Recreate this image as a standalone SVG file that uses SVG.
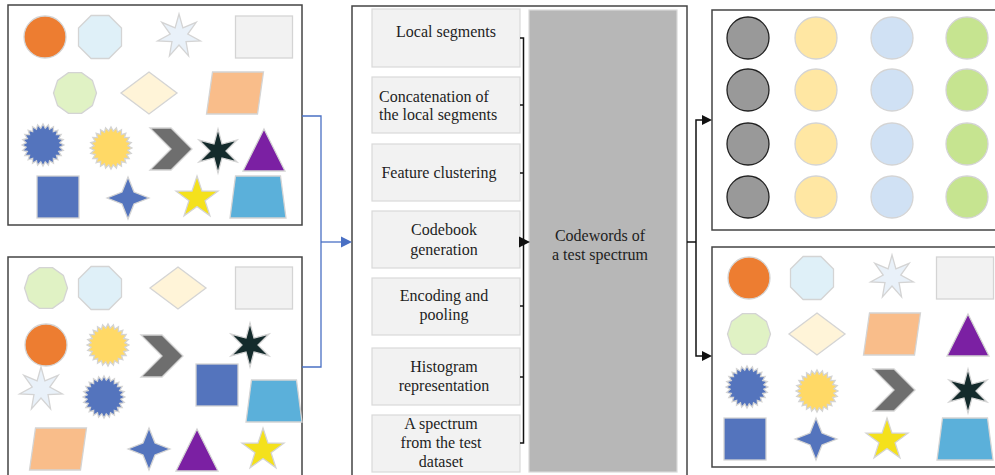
<svg xmlns="http://www.w3.org/2000/svg" width="995" height="475" viewBox="0 0 995 475">
<style>
.panel{fill:#fff;stroke:#444;stroke-width:1.5}
.sh{stroke:#d4d4d4;stroke-width:1.3}
.or{fill:#ed7d31}.lb{fill:#dff0f8}.ls{fill:#e9f1f9}.lg{fill:#f2f2f2}.gr{fill:#e0f2c4}.cr{fill:#fff4d8}.pe{fill:#f9bd8a}.bb{fill:#5474bd}.yb{fill:#ffd966}.gy{fill:#6e6e6e}.dk{fill:#142b2c}.pu{fill:#7b20a3}.ys{fill:#f4e11c}.tb{fill:#5bb0da}
.cg{fill:#999;stroke:#222;stroke-width:1.3}.cy{fill:#ffe7a3}.cb{fill:#d0e1f4}.cgr{fill:#c6e490}
.step{fill:#f2f2f2;stroke:#d9d9d9;stroke-width:1.2}
.t{font-family:"Liberation Serif","DejaVu Serif",serif;font-size:16px;fill:#1e1e1e}
.c{text-anchor:middle}
.blue{fill:none;stroke:#4a70c4;stroke-width:1.3}
.blk{fill:none;stroke:#111;stroke-width:1.5}
</style>
<defs>
<circle id="circ" r="21"/>
<polygon id="oct" points="-8.9,-21.5 8.9,-21.5 21.5,-8.9 21.5,8.9 8.9,21.5 -8.9,21.5 -21.5,8.9 -21.5,-8.9"/>
<polygon id="dec" points="21.5,0 17.4,12.6 6.6,20.4 -6.6,20.4 -17.4,12.6 -21.5,0 -17.4,-12.6 -6.6,-20.4 6.6,-20.4 17.4,-12.6"/>
<polygon id="star7" points="0,-22 3.9,-8.11 17.2,-13.72 8.77,-2 21.45,4.9 7.04,5.61 9.55,19.82 0,9 -9.55,19.82 -7.04,5.61 -21.45,4.9 -8.77,-2 -17.2,-13.72 -3.9,-8.11"/>
<rect id="rct" x="-28.5" y="-21" width="57" height="42"/>
<polygon id="dia" points="0,-21 28,0 0,21 -28,0"/>
<polygon id="para" points="-22.5,-21 28.5,-21 22.5,21 -28.5,21"/>
<polygon id="burst" points="21,0 16.85,2.22 20.28,5.44 15.71,6.51 18.19,10.5 13.49,10.35 14.85,14.85 10.35,13.49 10.5,18.19 6.51,15.71 5.44,20.28 2.22,16.85 0,21 -2.22,16.85 -5.44,20.28 -6.51,15.71 -10.5,18.19 -10.35,13.49 -14.85,14.85 -13.49,10.35 -18.19,10.5 -15.71,6.51 -20.28,5.44 -16.85,2.22 -21,0 -16.85,-2.22 -20.28,-5.44 -15.71,-6.51 -18.19,-10.5 -13.49,-10.35 -14.85,-14.85 -10.35,-13.49 -10.5,-18.19 -6.51,-15.71 -5.44,-20.28 -2.22,-16.85 0,-21 2.22,-16.85 5.44,-20.28 6.51,-15.71 10.5,-18.19 10.35,-13.49 14.85,-14.85 13.49,-10.35 18.19,-10.5 15.71,-6.51 20.28,-5.44 16.85,-2.22"/>
<polygon id="chev" points="-21,-21 0,-21 21,0 0,21 -21,21 0,0"/>
<polygon id="star6" points="0,-22 4,-6.93 19.05,-11 8,0 19.05,11 4,6.93 0,22 -4,6.93 -19.05,11 -8,0 -19.05,-11 -4,-6.93"/>
<polygon id="tri" points="0,-21 21,21 -21,21"/>
<rect id="sq" x="-21" y="-21" width="42" height="42"/>
<polygon id="star4" points="0,-21 6,-6 21,0 6,6 0,21 -6,6 -21,0 -6,-6"/>
<polygon id="star5" points="0,-22 5,-6.88 20.92,-6.8 8.08,2.63 12.93,17.8 0,8.5 -12.93,17.8 -8.08,2.63 -20.92,-6.8 -5,-6.88"/>
<polygon id="trap" points="-22.5,-21 22.5,-21 28,21 -28,21"/>
</defs>

<g id="panel-top-left">
<rect class="panel" x="8" y="5" width="294" height="220"/>
<g class="sh">
<use href="#circ" x="45" y="37" class="or"/>
<use href="#oct" x="100" y="37" class="lb"/>
<use href="#star7" x="179" y="36" class="ls"/>
<use href="#rct" x="264" y="37" class="lg"/>
<use href="#dec" x="75" y="93" class="gr"/>
<use href="#dia" x="149" y="93" class="cr"/>
<use href="#para" x="235" y="93" class="pe"/>
<use href="#burst" x="43" y="145" class="bb"/>
<use href="#burst" x="111" y="148" class="yb"/>
<use href="#chev" x="171" y="149" class="gy"/>
<use href="#star6" x="218" y="151" class="dk"/>
<use href="#tri" x="264" y="150" class="pu"/>
<use href="#sq" x="58" y="197" class="bb"/>
<use href="#star4" x="128" y="198" class="bb"/>
<use href="#star5" x="197" y="198" class="ys"/>
<use href="#trap" x="258" y="197" class="tb"/>
</g>
</g>

<g id="panel-bottom-left">
<rect class="panel" x="8" y="257" width="294" height="230"/>
<g class="sh">
<use href="#dec" x="46" y="288" class="gr"/>
<use href="#oct" x="100" y="288" class="lb"/>
<use href="#dia" x="178" y="288" class="cr"/>
<use href="#rct" x="264" y="288" class="lg"/>
<use href="#circ" x="46" y="345" class="or"/>
<use href="#burst" x="108" y="345" class="yb"/>
<use href="#chev" x="162" y="356" class="gy"/>
<use href="#star6" x="250" y="345" class="dk"/>
<use href="#star7" x="41" y="389" class="ls"/>
<use href="#burst" x="104" y="397" class="bb"/>
<use href="#sq" x="217" y="385" class="bb"/>
<use href="#trap" x="274" y="401" class="tb"/>
<use href="#para" x="58" y="449" class="pe"/>
<use href="#star4" x="149" y="449" class="bb"/>
<use href="#tri" x="197" y="450" class="pu"/>
<use href="#star5" x="263" y="450" class="ys"/>
</g>
</g>

<g id="pipeline">
<rect class="panel" x="352" y="6" width="335" height="480"/>
</g>

<g id="step-local-segments">
<rect class="step" x="372" y="9" width="148" height="58"/>
<text class="t c" x="446" y="37">Local segments</text>
</g>
<g id="step-concatenation">
<rect class="step" x="372" y="77" width="148" height="56"/>
<text class="t" x="379" y="102">Concatenation of</text>
<text class="t" x="379" y="120">the local segments</text>
</g>
<g id="step-feature-clustering">
<rect class="step" x="372" y="144" width="148" height="57"/>
<text class="t c" x="439" y="178">Feature clustering</text>
</g>
<g id="step-codebook">
<rect class="step" x="372" y="211" width="148" height="57"/>
<text class="t c" x="444" y="235">Codebook</text>
<text class="t c" x="444" y="255">generation</text>
</g>
<g id="step-encoding">
<rect class="step" x="372" y="278" width="148" height="57"/>
<text class="t c" x="444" y="301">Encoding and</text>
<text class="t c" x="444" y="320">pooling</text>
</g>
<g id="step-histogram">
<rect class="step" x="372" y="348" width="148" height="57"/>
<text class="t c" x="444" y="372">Histogram</text>
<text class="t c" x="444" y="391">representation</text>
</g>
<g id="step-spectrum">
<rect class="step" x="372" y="415" width="148" height="57"/>
<text class="t c" x="441" y="429">A spectrum</text>
<text class="t c" x="441" y="448">from the test</text>
<text class="t c" x="441" y="467">dataset</text>
</g>

<g id="codewords">
<rect x="529" y="10" width="148" height="462" fill="#b7b7b7" stroke="#d9d9d9" stroke-width="1.2"/>
<text class="t c" x="600" y="241">Codewords of</text>
<text class="t c" x="600" y="260">a test spectrum</text>
</g>

<g id="panel-codewords">
<rect class="panel" x="712" y="10" width="290" height="220"/>
<g class="sh">
<use href="#circ" x="748" y="38" class="cg"/>
<use href="#circ" x="748" y="90" class="cg"/>
<use href="#circ" x="748" y="144" class="cg"/>
<use href="#circ" x="748" y="197" class="cg"/>
<use href="#circ" x="816" y="38" class="cy"/>
<use href="#circ" x="816" y="90" class="cy"/>
<use href="#circ" x="816" y="144" class="cy"/>
<use href="#circ" x="816" y="197" class="cy"/>
<use href="#circ" x="892" y="38" class="cb"/>
<use href="#circ" x="892" y="90" class="cb"/>
<use href="#circ" x="892" y="144" class="cb"/>
<use href="#circ" x="892" y="197" class="cb"/>
<use href="#circ" x="967" y="38" class="cgr"/>
<use href="#circ" x="967" y="90" class="cgr"/>
<use href="#circ" x="967" y="144" class="cgr"/>
<use href="#circ" x="967" y="197" class="cgr"/>
</g>
</g>

<g id="panel-bottom-right">
<rect class="panel" x="712" y="247" width="290" height="220"/>
<g class="sh">
<use href="#circ" x="749" y="278" class="or"/>
<use href="#oct" x="812" y="278" class="lb"/>
<use href="#star7" x="892" y="277" class="ls"/>
<use href="#rct" x="965" y="278" class="lg"/>
<use href="#dec" x="749" y="334" class="gr"/>
<use href="#dia" x="817" y="334" class="cr"/>
<use href="#para" x="892" y="334" class="pe"/>
<use href="#tri" x="968" y="335" class="pu"/>
<use href="#burst" x="747" y="387" class="bb"/>
<use href="#burst" x="817" y="391" class="yb"/>
<use href="#chev" x="894" y="390" class="gy"/>
<use href="#star6" x="968" y="391" class="dk"/>
<use href="#sq" x="745" y="439" class="bb"/>
<use href="#star4" x="816" y="439" class="bb"/>
<use href="#star5" x="887" y="440" class="ys"/>
<use href="#trap" x="965" y="439" class="tb"/>
</g>
</g>

<g id="connectors">
<polyline class="blue" points="302,116 321,116 321,367 302,367"/>
<line class="blue" x1="321" y1="242" x2="343" y2="242"/>
<polygon points="341,236.5 352,242 341,247.5" fill="#4a70c4"/>
<polyline class="blk" points="520,38 523.5,38 523.5,443 520,443"/>
<line class="blk" x1="520" y1="105" x2="523.5" y2="105"/>
<line class="blk" x1="520" y1="173" x2="523.5" y2="173"/>
<line class="blk" x1="520" y1="306" x2="523.5" y2="306"/>
<line class="blk" x1="520" y1="377" x2="523.5" y2="377"/>
<polygon points="519,236.5 530,242 519,247.5" fill="#111"/>
<polyline class="blk" points="687,242 696,242"/>
<polyline class="blk" points="704,120 696,120 696,356 704,356"/>
<polygon points="702,115 712,120 702,125" fill="#111"/>
<polygon points="702,351 712,356 702,361" fill="#111"/>
</g>
</svg>
